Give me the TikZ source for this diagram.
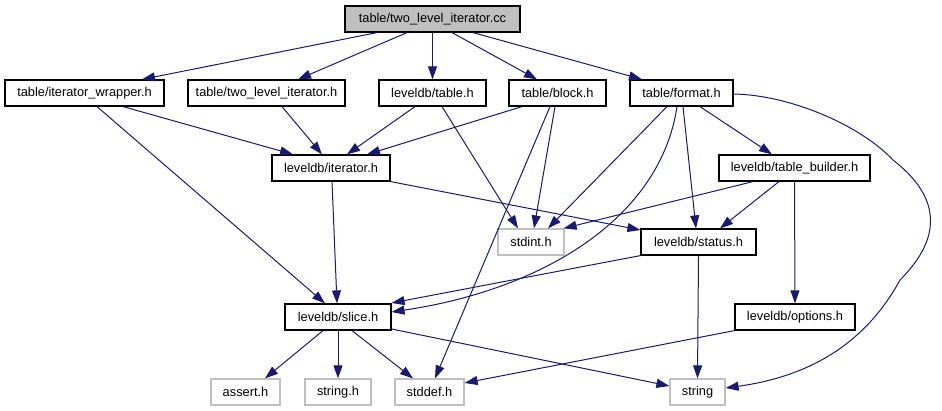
\documentclass[tikz,border=0pt]{standalone}
\usepackage{fontspec}
\setmainfont{Liberation Sans}
\usetikzlibrary{arrows.meta}
\definecolor{edgeblue}{HTML}{191970}
\definecolor{sysgray}{HTML}{BFBFBF}
\begin{document}
\begin{tikzpicture}[x=1pt,y=-1pt,
  box/.style={draw=black,line width=1.2pt,minimum height=26pt,inner sep=0pt,anchor=center,font=\fontsize{12.8}{14}\selectfont},
  sysbox/.style={box,draw=sysgray},
  rootbox/.style={box,fill=sysgray},
  dep/.style={draw=edgeblue,line width=1pt,-{Triangle[length=13pt,width=9pt]}}]
\useasboundingbox (0,0) rectangle (942,411);
% nodes
\node[rootbox,minimum width=175pt] (root) at (432.5,19) {table/two\_level\_iterator.cc};
\node[box,minimum width=159pt] (iw) at (84.5,93) {table/iterator\_wrapper.h};
\node[box,minimum width=157pt] (tli) at (266.5,93) {table/two\_level\_iterator.h};
\node[box,minimum width=107pt] (tbl) at (432.5,93) {leveldb/table.h};
\node[box,minimum width=97pt] (blk) at (557.5,93) {table/block.h};
\node[box,minimum width=103pt] (fmt) at (681.5,93) {table/format.h};
\node[box,minimum width=118pt] (iter) at (331,168) {leveldb/iterator.h};
\node[box,minimum width=151pt] (tb) at (794.5,168) {leveldb/table\_builder.h};
\node[sysbox,minimum width=66pt] (stdint) at (531,242) {stdint.h};
\node[box,minimum width=115pt] (status) at (698.5,242) {leveldb/status.h};
\node[box,minimum width=106pt] (slice) at (338,317) {leveldb/slice.h};
\node[box,minimum width=120pt] (opt) at (795,317) {leveldb/options.h};
\node[sysbox,minimum width=69pt] (assert) at (245.5,392) {assert.h};
\node[sysbox,minimum width=66pt] (strh) at (338,392) {string.h};
\node[sysbox,minimum width=69pt] (stddef) at (429.5,392) {stddef.h};
\node[sysbox,minimum width=55pt] (str) at (697.5,392) {string};
% edges
\draw[dep] ([xshift=-55.5pt]root.south) -- ([xshift=57.5pt]iw.north);
\draw[dep] ([xshift=-25.5pt]root.south) -- ([xshift=31.5pt]tli.north);
\draw[dep] (root.south) -- (tbl.north);
\draw[dep] ([xshift=19.5pt]root.south) -- ([xshift=-20.5pt]blk.north);
\draw[dep] ([xshift=40.5pt]root.south) -- ([xshift=-39.5pt]fmt.north);
\draw[dep] ([xshift=38.5pt]iw.south) -- ([xshift=-38pt]iter.north);
\draw[dep] ([xshift=12.5pt]iw.south) -- ([xshift=-13pt]slice.north);
\draw[dep] ([xshift=15.5pt]tli.south) -- ([xshift=-9pt]iter.north);
\draw[dep] ([xshift=-17.5pt]tbl.south) -- ([xshift=16pt]iter.north);
\draw[dep] ([xshift=9.5pt]tbl.south) -- ([xshift=-13pt]stdint.north);
\draw[dep] ([xshift=-35.5pt]blk.south) -- ([xshift=36pt]iter.north);
\draw[dep] ([xshift=-2.5pt]blk.south) -- ([xshift=3pt]stdint.north);
\draw[dep] ([xshift=-7.5pt]blk.south) -- ([xshift=5.5pt]stddef.north);
\draw[dep] ([xshift=-14.5pt]fmt.south) -- ([xshift=17pt]stdint.north);
\draw[dep] ([xshift=-4.5pt]fmt.south) .. controls (660,220) and (540,290) .. ([yshift=5pt]slice.east);
\draw[dep] ([xshift=1.5pt]fmt.south) -- ([xshift=-2.5pt]status.north);
\draw[dep] ([xshift=18.5pt]fmt.south) -- ([xshift=-22.5pt]tb.north);
\draw[dep] ([yshift=-1pt]fmt.east) .. controls (790,95) and (860,125) .. (893,160)
   .. controls (925,185) and (955,225) .. (900,280)
   .. controls (870,335) and (820,375) .. ([yshift=4pt]str.east);
\draw[dep] (iter.south east) -- ([yshift=12pt]status.west);
\draw[dep] ([xshift=1pt]iter.south) -- ([xshift=-1pt]slice.north);
\draw[dep] ([xshift=-41.5pt]tb.south) -- ([xshift=-1pt]stdint.north east);
\draw[dep] ([xshift=-15.5pt]tb.south) -- ([xshift=21.5pt]status.north);
\draw[dep] (tb.south) -- (opt.north);
\draw[dep] (status.south west) -- ([yshift=14pt]slice.east);
\draw[dep] (status.south) -- (str.north);
\draw[dep] ([xshift=-15pt]slice.south) -- ([xshift=19.5pt]assert.north);
\draw[dep] (slice.south) -- (strh.north);
\draw[dep] ([xshift=14pt]slice.south) -- ([xshift=-16.5pt]stddef.north);
\draw[dep] ([yshift=-12pt]slice.east) -- ([yshift=6pt]str.west);
\draw[dep] (opt.south west) -- ([yshift=9pt]stddef.east);
\end{tikzpicture}
\end{document}
